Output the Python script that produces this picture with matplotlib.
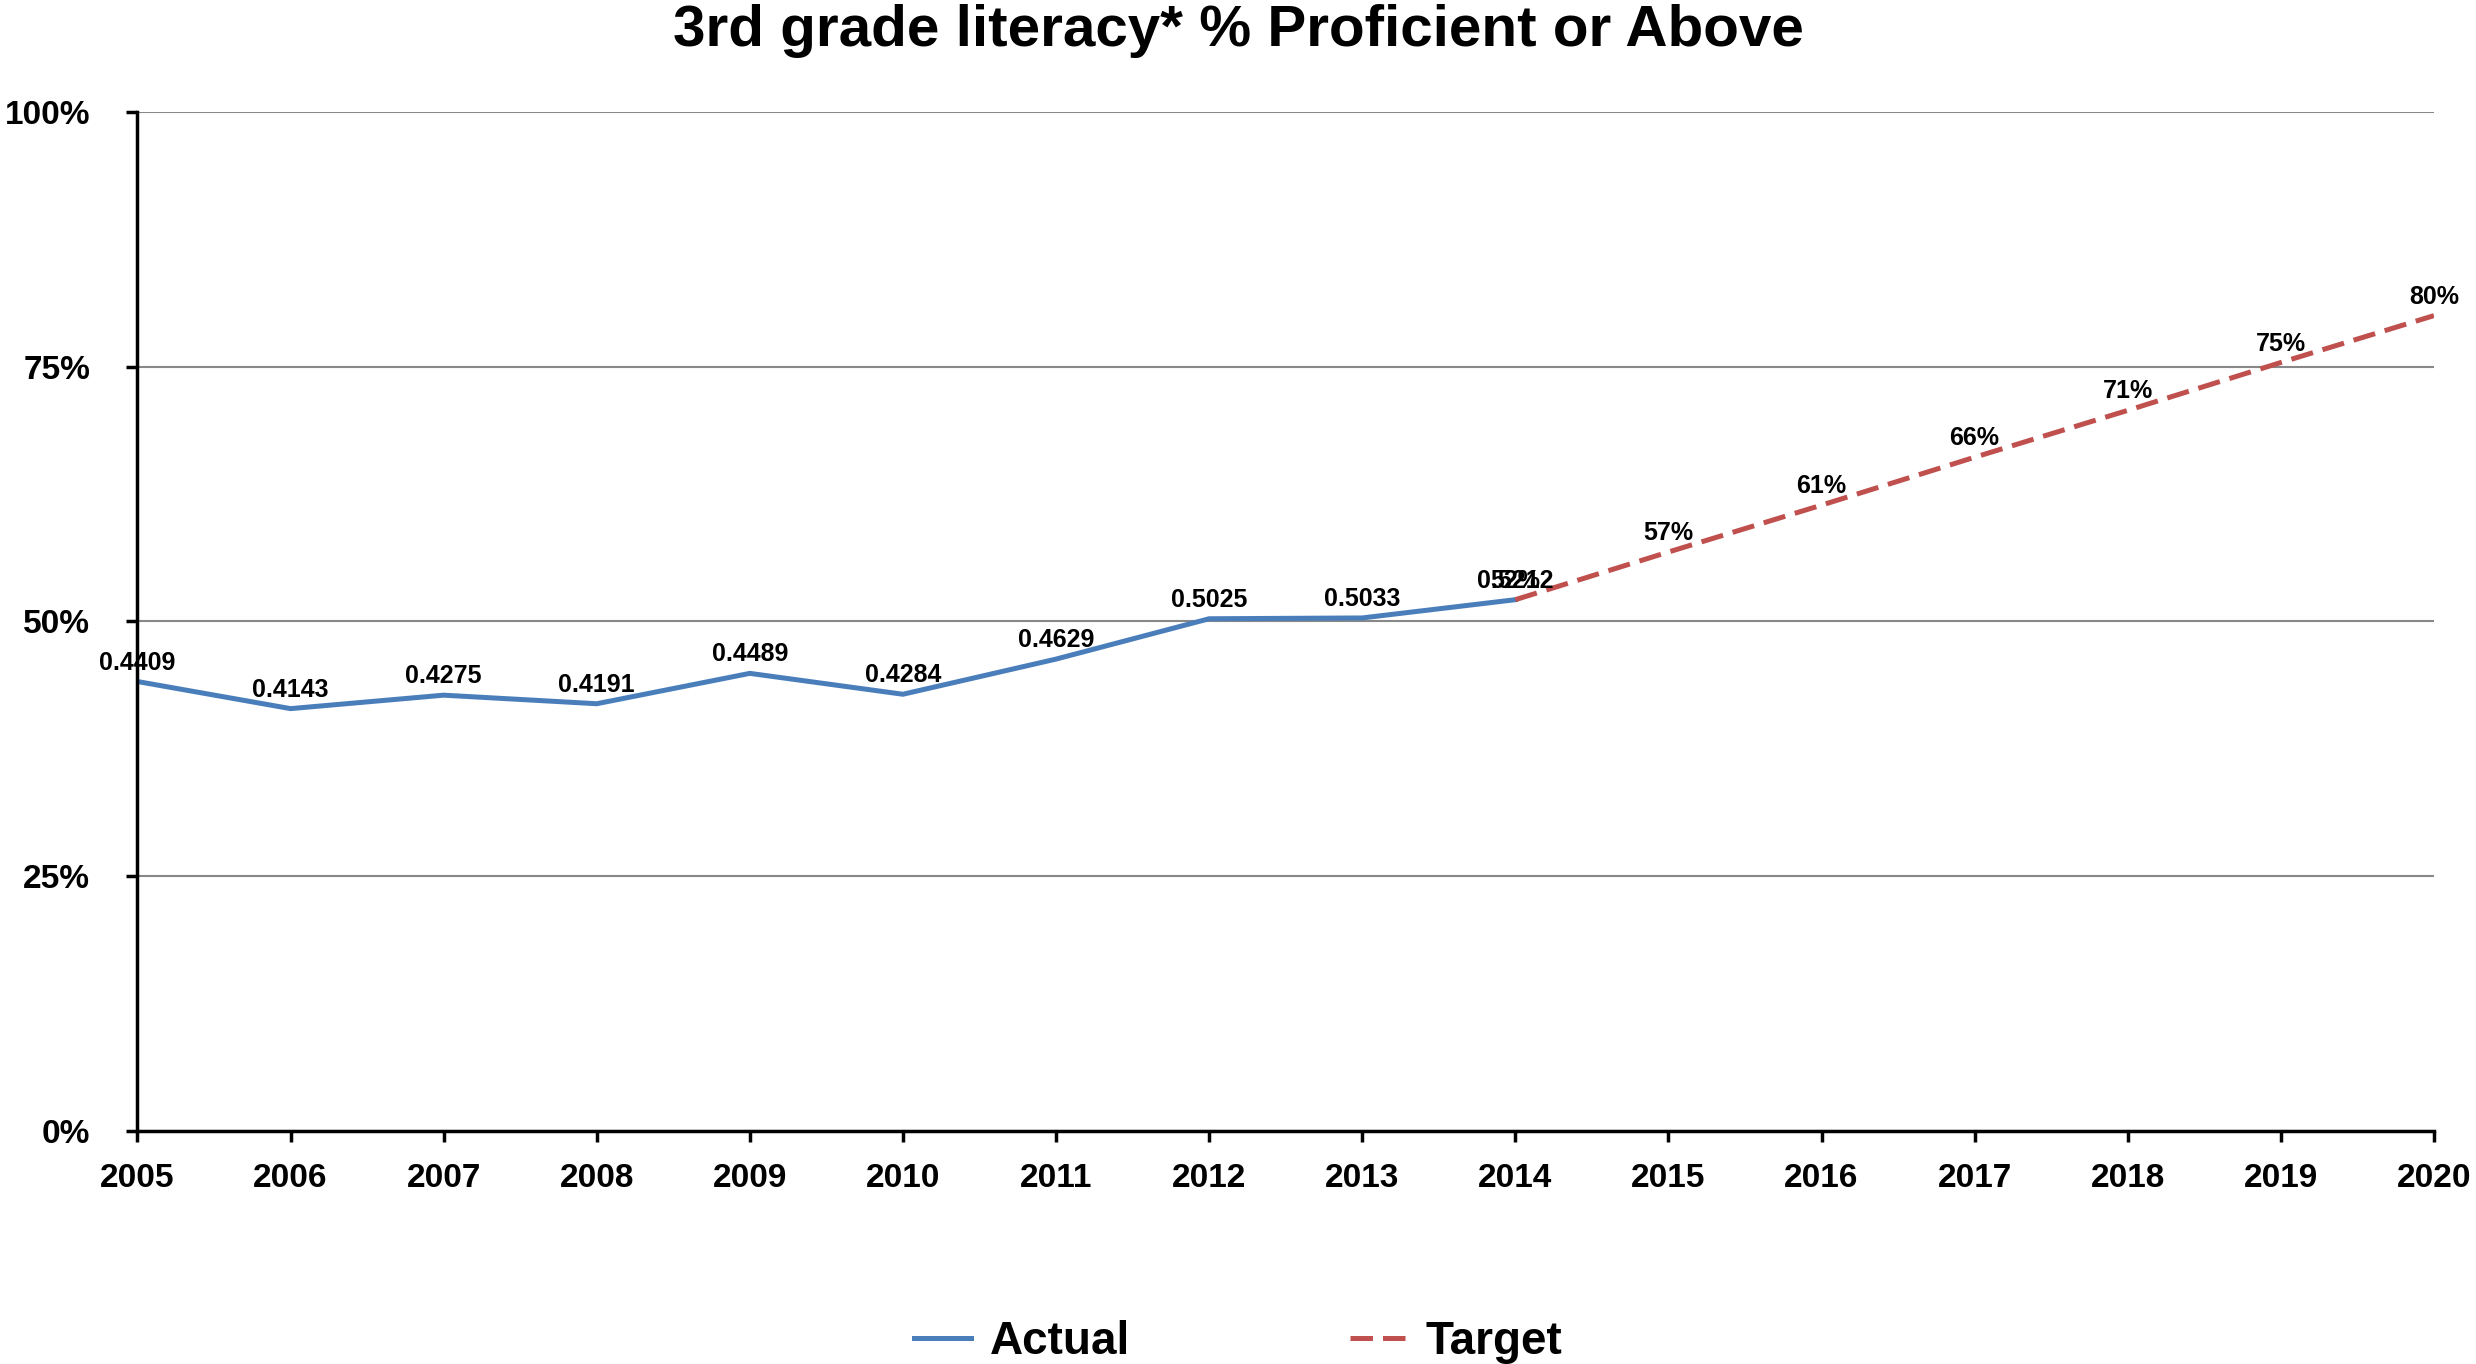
import numpy as np
import matplotlib.pyplot as plt
from matplotlib.ticker import PercentFormatter

plt.rcParams['font.family'] = ['Liberation Sans', 'DejaVu Sans']
plt.rcParams['font.weight'] = 'bold'

years_actual = [2005, 2006, 2007, 2008, 2009, 2010, 2011, 2012, 2013, 2014]
actual = [0.4409, 0.4143, 0.4275, 0.4191, 0.4489, 0.4284, 0.4629, 0.5025, 0.5033, 0.5212]
years_target = [2014, 2015, 2016, 2017, 2018, 2019, 2020]
target = [0.5212, 0.568, 0.614, 0.661, 0.707, 0.754, 0.80]
all_years = list(range(2005, 2021))

fig = plt.figure(figsize=(24.76, 13.64), dpi=100)
ax = fig.add_axes([0.0555, 0.171, 0.9275, 0.747])

ax.plot(years_actual, actual, color='#4a7ebb', lw=3.6, label='Actual')
ax.plot(years_target, target, color='#c0504d', lw=3.6, ls=(0, (4.5, 2)), label='Target')

# data labels (the 2014 ones overlap, as in the original)
for x, y in zip(years_actual, actual):
    ax.annotate(str(y), (x, y), xytext=(0, 5), textcoords='offset points',
                ha='center', va='bottom', fontsize=18)
for x, y in zip(years_target, target):
    ax.annotate(f'{y:.0%}', (x, y), xytext=(0, 5), textcoords='offset points',
                ha='center', va='bottom', fontsize=18)

ax.set_xlim(2005, 2020)
ax.set_ylim(0, 1)
ax.set_xticks(all_years)
ax.set_yticks([0, 0.25, 0.5, 0.75, 1.0])
ax.yaxis.set_major_formatter(PercentFormatter(1.0, decimals=0))
ax.tick_params(axis='both', labelsize=24, length=8, width=2.5, direction='out')
ax.tick_params(axis='x', pad=15)
ax.tick_params(axis='y', pad=26)
ax.grid(axis='y', color='#888888', lw=1.5)
ax.set_axisbelow(True)
for s in ['top', 'right']:
    ax.spines[s].set_visible(False)
for s in ['left', 'bottom']:
    ax.spines[s].set_linewidth(2.5)
    ax.spines[s].set_color('black')

fig.suptitle('3rd grade literacy* % Proficient or Above', fontsize=42, fontweight='bold', y=0.997)
fig.legend(loc='lower center', bbox_to_anchor=(0.5, -0.03), ncol=2, frameon=False,
           fontsize=33, handlelength=1.25, columnspacing=4.8, handletextpad=0.4)

fig.savefig('out.png', dpi=100)
